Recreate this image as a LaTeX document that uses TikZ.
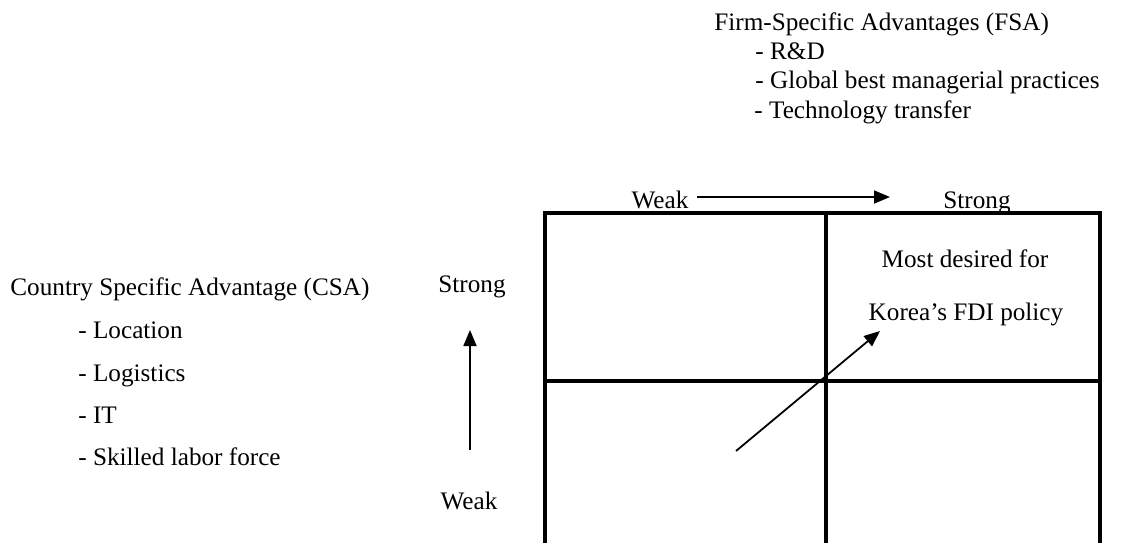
\documentclass[tikz,border=0pt]{standalone}
\usepackage{fontspec}
\setmainfont{Liberation Serif}
\usetikzlibrary{arrows.meta, positioning}

\tikzset{
	txt/.style={inner sep=0pt, anchor=base west, font=\fontsize{12.6}{15}\selectfont},
	ctxt/.style={txt, anchor=base},
	gridline/.style={line width=2pt},
	axis/.style={line width=0.9pt, -{Triangle[length=8pt,width=6.5pt]}},
}

\begin{document}
\begin{tikzpicture}[x=0.5pt, y=-0.5pt]
	\useasboundingbox (0,0) rectangle (1121,543);

	% FSA list
	\node[txt] (fsa) at (714,30) {Firm-Specific Advantages (FSA)};
	\node[txt] (fsaA) at (755,59) {- R\&D};
	\node[txt] (fsaB) at (755,88) {- Global best managerial practices};
	\node[txt] (fsaC) at (754,118) {- Technology transfer};

	% CSA list
	\node[txt] (csa) at (10,295) {Country Specific Advantage (CSA)};
	\node[txt] (csaA) at (78,338) {- Location};
	\node[txt] (csaB) at (78,381) {- Logistics};
	\node[txt] (csaC) at (78,423) {- IT};
	\node[txt] (csaD) at (78,465) {- Skilled labor force};

	% axis labels
	\node[ctxt] (weakX) at (660,208) {Weak};
	\node[ctxt] (strongX) at (977,208) {Strong};
	\node[ctxt] (strongY) at (472,292) {Strong};
	\node[ctxt] (weakY) at (469,509) {Weak};

	\coordinate (xa) at (697,197);
	\coordinate (xb) at (890,197);
	\coordinate (ya) at (470,450);
	\coordinate (yb) at (470,330);
	\draw[axis] (xa) -- (xb);
	\draw[axis] (ya) -- (yb);

	% grid
	\coordinate (tl) at (545,213);
	\coordinate (tm) at (826,213);
	\coordinate (tr) at (1100,213);
	\coordinate (ml) at (545,381);
	\coordinate (mr) at (1100,381);
	\coordinate (bl) at (545,543);
	\coordinate (bm) at (826,543);
	\coordinate (br) at (1100,543);
	\draw[gridline] (bl) -- (tl) -- (tr) -- (br);
	\draw[gridline] (ml) -- (mr);
	\draw[gridline] (tm) -- (bm);

	\node[ctxt] (goal1) at (965,267) {Most desired for};
	\node[ctxt] (goal2) at (966,320) {Korea’s FDI policy};

	\coordinate (da) at (736,451);
	\coordinate (db) at (880,331);
	\draw[axis] (da) -- (db);
\end{tikzpicture}
\end{document}
